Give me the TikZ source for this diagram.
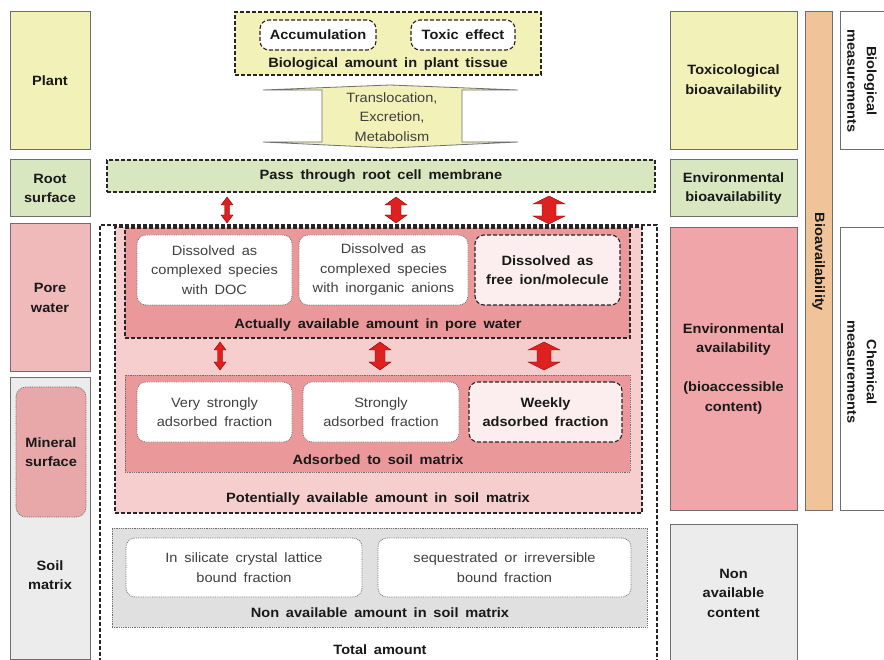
\documentclass[tikz,border=0pt]{standalone}
\usepackage{fontspec}
\setmainfont{Liberation Sans}[FakeStretch=1.08]
\usetikzlibrary{calc}
\definecolor{yelfill}{RGB}{242,242,184}
\definecolor{grnfill}{RGB}{216,231,192}
\definecolor{porefill}{RGB}{240,186,186}
\definecolor{minfill}{RGB}{232,168,170}
\definecolor{soilgray}{RGB}{236,236,236}
\definecolor{nongray}{RGB}{224,224,224}
\definecolor{potfill}{RGB}{246,206,206}
\definecolor{actfill}{RGB}{234,152,154}
\definecolor{envfill}{RGB}{240,166,168}
\definecolor{freefill}{RGB}{252,238,238}
\definecolor{barfill}{RGB}{240,196,152}
\definecolor{boxgray}{RGB}{110,110,110}
\definecolor{arrred}{RGB}{222,32,32}
\definecolor{txtgray}{RGB}{64,64,64}
\newcommand\lbl{\fontsize{13.5}{19.5}\selectfont\bfseries\spaceskip=0.5em\relax}
\newcommand\txt{\fontsize{13.5}{19.5}\selectfont\spaceskip=0.5em\relax}
\def\redarrow(#1,#2,#3)(#4:#5){\draw[arrowfill] (#1,#2) -- (#1+#5,#2+8) -- (#1+#4,#2+8) -- (#1+#4,#3-8) -- (#1+#5,#3-8) -- (#1,#3) -- (#1-#5,#3-8) -- (#1-#4,#3-8) -- (#1-#4,#2+8) -- (#1-#5,#2+8) -- cycle;}

\begin{document}
\begin{tikzpicture}[x=1pt,y=-1pt,
	sidebox/.style={draw=boxgray, line width=1pt, minimum width=80, inner sep=0, align=center, font=\lbl, text=black!90},
	rightbox/.style={sidebox, minimum width=127},
	dashbox/.style={draw=black!85, line width=1.1pt, dash pattern=on 4pt off 2pt, inner sep=0},
	dotbox/.style={draw=boxgray, line width=0.8pt, densely dotted, inner sep=0},
	fracbox/.style={dotbox, fill=white, rounded corners=9pt, align=center, font=\txt, text=txtgray},
	freebox/.style={dashbox, fill=freefill, rounded corners=9pt, align=center, font=\lbl, text=black!90},
	lbl/.style={font=\lbl, text=black!90, align=center, inner sep=0},
	arrowfill/.style={fill=arrred, draw=red!55!black, line width=0.4pt}]
	%%%%% START %%%%%
	\clip (0,0) rectangle (884,660);
	\fill[white] (0,0) rectangle (884,660);
	
	% left column
	\node[sidebox, fill=yelfill, minimum height=138] (plant) at (50,81) {Plant};
	\node[sidebox, fill=grnfill, minimum height=57] (rootsurf) at (50,188.5) {Root\\surface};
	\node[sidebox, fill=porefill, minimum height=148] (porewater) at (50,298) {Pore\\water};
	\node[sidebox, fill=soilgray, minimum height=281] (soilmatrix) at (50,518.5) {};
	\node[dotbox, fill=minfill, rounded corners=10pt, minimum width=70, minimum height=130, align=center, font=\lbl, text=black!90] (mineral) at (51,452) {Mineral\\surface};
	\node[lbl] (soillbl) at (50,575) {Soil\\matrix};
	
	% plant tissue
	\node[dashbox, fill=yelfill, minimum width=306, minimum height=63] (bioamount) at (388,43.5) {};
	\node[freebox, fill=white, minimum width=116, minimum height=30] (accum) at (318,35) {Accumulation};
	\node[freebox, fill=white, minimum width=104, minimum height=30] (toxic) at (463,35) {Toxic effect};
	\node[lbl] (biolbl) at (388,64) {Biological amount in plant tissue};
	
	\draw[boxgray, fill=yelfill, line width=0.8pt] (263,90) -- (390,85) -- (518,90) -- (462,90) -- (462,142) -- (518,142) -- (390,148) -- (263,142) -- (322,142) -- (322,90) -- cycle;
	\node[font=\txt, text=txtgray, align=center, inner sep=0] (transl) at (392,117) {Translocation,\\Excretion,\\Metabolism};
	
	\node[dashbox, fill=grnfill, minimum width=548, minimum height=32, font=\lbl, text=black!90] (passroot) at (381,176) {Pass through root cell membrane};
	
	\redarrow(227,197,223)(2.5:6)
	\redarrow(396,197,223)(5:11)
	\redarrow(549,196,224)(7:16)
	
	% soil
	\node[dashbox, fill=white, minimum width=557, minimum height=445] (total) at (378.5,447.5) {};
	\node[dashbox, fill=potfill, minimum width=527, minimum height=286] (potential) at (378.5,370) {};
	\node[dashbox, fill=actfill, minimum width=505, minimum height=110] (actual) at (377.5,283) {};
	\node[dotbox, fill=actfill, minimum width=505, minimum height=97] (adsorbed) at (377.5,423.5) {};
	\node[dotbox, fill=nongray, minimum width=535, minimum height=99] (nonavail) at (379.5,577.5) {};
	
	\node[fracbox, minimum width=155, minimum height=70] (doc) at (214.5,270) {Dissolved as\\complexed species\\with DOC};
	\node[fracbox, minimum width=169, minimum height=70] (inorg) at (383.5,270) {Dissolved as\\complexed species\\with inorganic anions};
	\node[freebox, minimum width=145, minimum height=70] (freeion) at (547.5,270) {Dissolved as\\free ion/molecule};
	\node[lbl] (actlbl) at (378,325) {Actually available amount in pore water};
	
	\redarrow(220,342,370)(2.5:6)
	\redarrow(380,342,370)(5:11)
	\redarrow(544,342,370)(7:16)
	
	\node[fracbox, minimum width=155, minimum height=60] (vstrong) at (214.5,412) {Very strongly\\adsorbed fraction};
	\node[fracbox, minimum width=156, minimum height=60] (strong) at (381,412) {Strongly\\adsorbed fraction};
	\node[freebox, minimum width=153, minimum height=60] (weekly) at (545.5,412) {Weekly\\adsorbed fraction};
	\node[lbl] (adslbl) at (378,460) {Adsorbed to soil matrix};
	\node[lbl] (potlbl) at (378,499) {Potentially available amount in soil matrix};
	
	\node[fracbox, minimum width=236, minimum height=59] (silicate) at (244,567.5) {In silicate crystal lattice\\bound fraction};
	\node[fracbox, minimum width=253, minimum height=59] (sequest) at (504.5,567.5) {sequestrated or irreversible\\bound fraction};
	\node[lbl] (nonlbl) at (380,613) {Non available amount in soil matrix};
	\node[lbl] (totlbl) at (380,650) {Total amount};
	
	% right columns
	\node[rightbox, fill=yelfill, minimum height=138] (toxbio) at (733.5,81) {Toxicological\\bioavailability};
	\node[rightbox, fill=grnfill, minimum height=57] (envbio) at (733.5,188.5) {Environmental\\bioavailability};
	\node[rightbox, fill=envfill, minimum height=282] (envavail) at (733.5,369) {Environmental\\availability\\[19.5pt](bioaccessible\\content)};
	\node[rightbox, fill=soilgray, minimum height=138] (noncont) at (733.5,593) {Non\\available\\content};
	
	\node[sidebox, fill=barfill, minimum width=27, minimum height=498] (bioavail) at (818.5,261) {};
	\node[lbl, rotate=-90] (bioavaillbl) at (818.5,262) {Bioavailability};
	\node[sidebox, fill=white, minimum width=60, minimum height=138] (biomeas) at (870,81) {};
	\node[lbl, rotate=-90] (biomeaslbl) at (862,81) {Biological\\measurements};
	\node[sidebox, fill=white, minimum width=60, minimum height=282] (chemmeas) at (870,369) {};
	\node[lbl, rotate=-90] (chemmeaslbl) at (862,372) {Chemical\\measurements};
	%%%%% END %%%%%
\end{tikzpicture}
\end{document}
